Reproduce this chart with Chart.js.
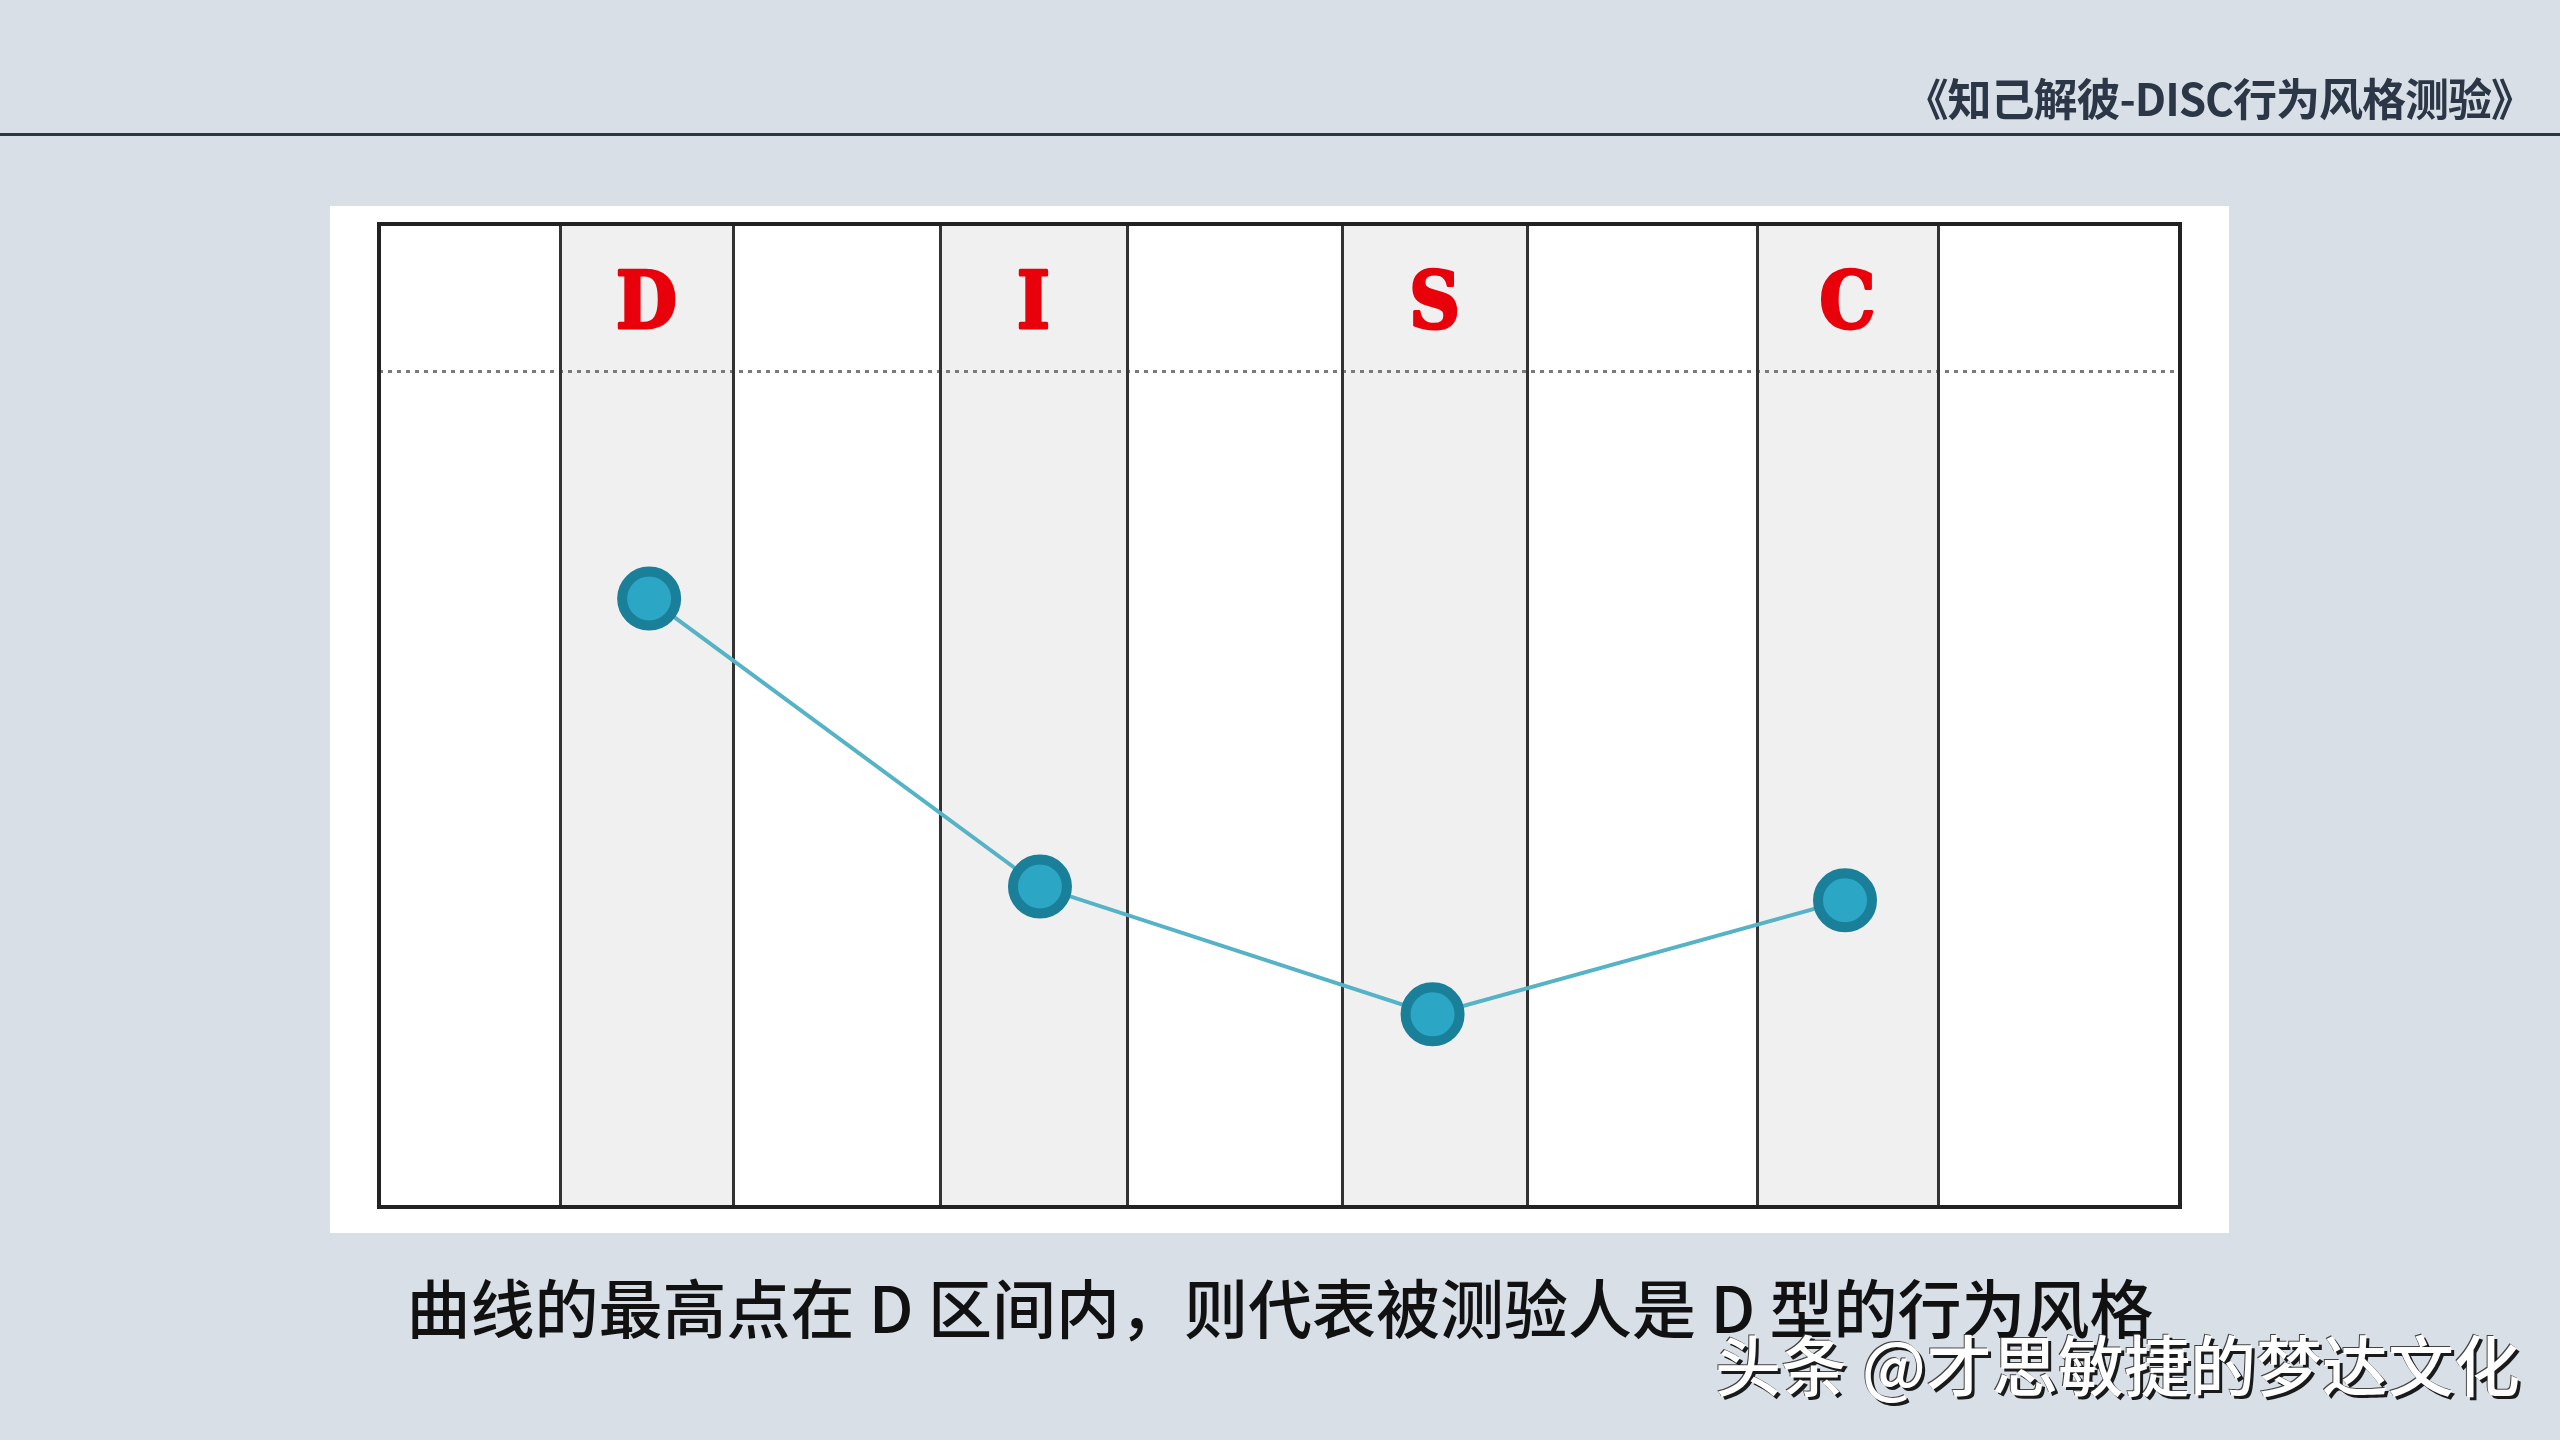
<!DOCTYPE html>
<html><head><meta charset="utf-8">
<script src="https://cdn.jsdelivr.net/npm/chart.js@4.4.1/dist/chart.umd.min.js"></script>
<style>
html,body{margin:0;padding:0;background:#d8dfe7;width:2560px;height:1440px;overflow:hidden;}
#wrap{position:absolute;left:0;top:0;width:2560px;height:1440px;}
.header{position:absolute;right:26px;top:68px;font-family:"Noto Sans CJK SC";font-size:44px;color:#2b3646;line-height:58px;font-weight:700;letter-spacing:-1px;}
.rule{position:absolute;left:0;top:133px;width:2560px;height:3px;background:#2b3646;}
.caption{position:absolute;left:0;width:2560px;text-align:center;top:1265px;font-family:"Noto Sans CJK SC";font-size:64px;line-height:80px;color:#111;font-weight:500;}
.mark{position:absolute;right:40px;top:1322px;font-family:"Noto Sans CJK SC";font-size:66px;line-height:80px;color:#fff;font-weight:500;text-shadow:3px 3px 0 #1a1a1a, -1px -1px 0 #444;}
</style></head>
<body>
<div id="wrap"><canvas id="c"></canvas></div>
<div class="header">《知己解彼-DISC行为风格测验》</div>
<div class="rule"></div>
<div class="caption">曲线的最高点在 D 区间内，则代表被测验人是 D 型的行为风格</div>
<div class="mark">头条 @才思敏捷的梦达文化</div>
<script>
// zone boundaries along the horizontal axis (0..100)
const zoneEdges = [0, 10.05, 19.66, 31.15, 41.53, 53.47, 63.74, 76.51, 86.56, 100];
// zones that carry a DISC letter (index of left edge)
const letterZones = [1, 3, 5, 7];
const letters = ['D', 'I', 'S', 'C'];
// plotted points
const scoreX = [15.0, 36.7, 58.5, 81.4];
const scoreY = [61.9, 32.6, 19.6, 31.2];
// dotted separator level and letter baseline level
const separatorY = 85;
const letterY = 89.4;

const gridPlugin = {
  id: 'discGrid',
  beforeDatasetsDraw(chart) {
    const ctx = chart.ctx, a = chart.chartArea;
    const xs = chart.scales.x, ys = chart.scales.y;
    ctx.save();
    // white panel
    ctx.fillStyle = '#ffffff';
    ctx.fillRect(a.left - 49, a.top - 18, (a.right - a.left) + 98, (a.bottom - a.top) + 44);
    // shaded zones
    ctx.fillStyle = '#f0f0f0';
    letterZones.forEach(i => {
      const x0 = xs.getPixelForValue(zoneEdges[i]);
      const x1 = xs.getPixelForValue(zoneEdges[i + 1]);
      ctx.fillRect(x0, a.top, x1 - x0, a.bottom - a.top);
    });
    // dotted separator
    ctx.strokeStyle = '#7a7a7a';
    ctx.lineWidth = 3;
    ctx.setLineDash([4, 5]);
    const sy = ys.getPixelForValue(separatorY);
    ctx.beginPath(); ctx.moveTo(a.left, sy); ctx.lineTo(a.right, sy); ctx.stroke();
    ctx.setLineDash([]);
    // vertical lines
    ctx.strokeStyle = '#333';
    ctx.lineWidth = 3;
    zoneEdges.slice(1, -1).forEach(v => {
      const x = Math.round(xs.getPixelForValue(v)) + 0.5;
      ctx.beginPath(); ctx.moveTo(x, a.top); ctx.lineTo(x, a.bottom); ctx.stroke();
    });
    // border
    ctx.strokeStyle = '#222';
    ctx.lineWidth = 4;
    ctx.strokeRect(a.left, a.top, a.right - a.left, a.bottom - a.top);
    // letters
    ctx.fillStyle = '#e8000b';
    ctx.strokeStyle = '#e8000b';
    ctx.lineWidth = 3;
    ctx.lineJoin = 'round';
    ctx.font = 'bold 78px "DejaVu Serif Condensed", "DejaVu Serif", serif';
    ctx.textAlign = 'center';
    ctx.textBaseline = 'alphabetic';
    letterZones.forEach((i, k) => {
      const cx = (xs.getPixelForValue(zoneEdges[i]) + xs.getPixelForValue(zoneEdges[i + 1])) / 2;
      const cy = ys.getPixelForValue(letterY);
      ctx.fillText(letters[k], cx, cy);
      ctx.strokeText(letters[k], cx, cy);
    });
    ctx.restore();
  }
};

new Chart(document.getElementById('c'), {
  type: 'line',
  data: {
    datasets: [{
      data: scoreX.map((x, i) => ({ x: x, y: scoreY[i] })),
      borderColor: '#55b2c7',
      borderWidth: 4,
      pointRadius: 27,
      pointBorderWidth: 10,
      pointBackgroundColor: '#2ba6c4',
      pointBorderColor: '#1a7f99',
      tension: 0
    }]
  },
  options: {
    responsive: true,
    maintainAspectRatio: false,
    devicePixelRatio: 1,
    animation: false,
    layout: { padding: { left: 379, right: 380, top: 224, bottom: 233 } },
    scales: {
      x: { type: 'linear', min: 0, max: 100, display: false },
      y: { min: 0, max: 100, display: false }
    },
    plugins: { legend: { display: false }, tooltip: { enabled: false } }
  },
  plugins: [gridPlugin]
});
</script>
</body></html>
